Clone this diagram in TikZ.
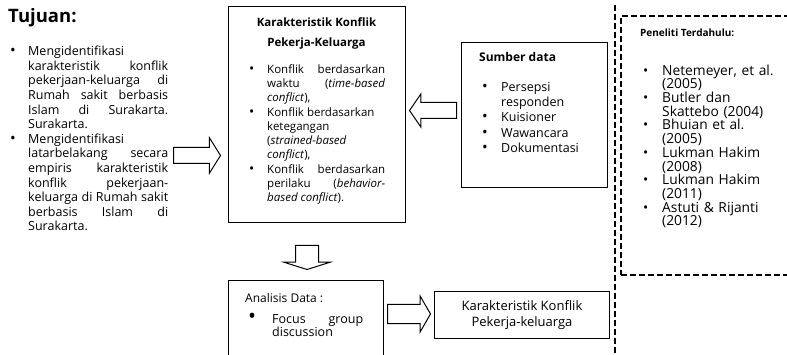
\documentclass[tikz,border=0pt]{standalone}
\usepackage{fontspec}
\setmainfont{Open Sans}
\usepackage{enumitem}
\usetikzlibrary{shapes.arrows}

\hyphenpenalty=10000
\exhyphenpenalty=10000
\tolerance=10000
\hbadness=10000

\setlist[itemize]{nosep,label=\scalebox{1.2}{\textbullet},align=left,labelindent=0pt,labelwidth=6pt,labelsep=*,leftmargin=18pt}

\tikzset{
  box/.style={draw, line width=1pt, inner sep=0pt, anchor=north west},
  dashbox/.style={draw, line width=2pt, dash pattern=on 6pt off 3pt},
  txt/.style={inner sep=0pt, anchor=north west, align=justify},
  title/.style={inner sep=0pt, anchor=base west, font=\bfseries\fontsize{#1}{#1}\selectfont},
  blockarrow/.style n args={4}{draw, line width=1pt, single arrow, minimum width=0pt,
    inner xsep=0pt, inner ysep=#1/2, single arrow head extend=#2,
    minimum height=#3, single arrow tip angle=#4, anchor=tail},
}

\begin{document}
\begin{tikzpicture}[x=1pt,y=1pt]
\useasboundingbox (0,0) rectangle (787,-355);

% Tujuan
\node[title=18.5] (tujuan) at (8,-23) {Tujuan:};
\node[txt, text width=158, font=\fontsize{12.5}{14.6}\selectfont] (tujuanlist) at (10,-41) {%
\begin{itemize}
\item Mengidentifikasi\newline karakteristik konflik\linebreak pekerjaan-keluarga di\linebreak
Rumah sakit berbasis\linebreak Islam di Surakarta.\linebreak Surakarta.
\item Mengidentifikasi\newline latarbelakang secara\linebreak empiris karakteristik\linebreak
konflik pekerjaan-\linebreak keluarga di Rumah sakit\linebreak berbasis Islam di\linebreak Surakarta.
\end{itemize}};

% Karakteristik
\node[box, minimum width=177, minimum height=216] (karakter) at (228,-6) {};
\node[inner sep=0pt, anchor=north, align=center, font=\bfseries\fontsize{11.5}{20}\selectfont] (karaktertitle) at (316.5,-18) {Karakteristik Konflik\\Pekerja-Keluarga};
\node[txt, text width=136, font=\fontsize{11.5}{14.3}\selectfont] (karakterlist) at (249,-58.7) {%
\begin{itemize}
\item Konflik berdasarkan\linebreak waktu (\textit{time-based}\linebreak \textit{conflict}),
\item Konflik berdasarkan\newline ketegangan\newline (\textit{strained-based}\newline \textit{conflict}),
\item Konflik berdasarkan\linebreak perilaku (\textit{behavior-}\linebreak \textit{based conflict}).
\end{itemize}};

% Sumber data
\node[box, minimum width=146, minimum height=145] (sumber) at (461,-42) {};
\node[title=12] (sumbertitle) at (479,-62) {Sumber data};
\node[txt, align=left, text width=110, font=\fontsize{12.5}{15.3}\selectfont] (sumberlist) at (482,-75.7) {%
\begin{itemize}[leftmargin=19pt]
\item Persepsi\newline responden
\item Kuisioner
\item Wawancara
\item Dokumentasi
\end{itemize}};

% Peneliti terdahulu
\draw[dashbox] (615,-5) -- (615,-360);
\node[box, dashbox, minimum width=180, minimum height=259] (peneliti) at (620,-15) {};
\node[title=10] (penelitititle) at (640,-37) {Peneliti Terdahulu:};
\node[txt, align=left, text width=140, font=\fontsize{13.8}{13.7}\selectfont] (penelitilist) at (643,-61.3) {%
\begin{itemize}[leftmargin=19pt, label=\textbullet]
\item Netemeyer, et al.\newline (2005)
\item Butler dan\newline Skattebo (2004)
\item Bhuian et al.\newline (2005)
\item Lukman Hakim\newline (2008)
\item Lukman Hakim\newline (2011)
\item Astuti \& Rijanti\newline (2012)
\end{itemize}};

% Analisis data
\node[box, minimum width=155, minimum height=80] (analisis) at (228,-280) {};
\node[inner sep=0pt, anchor=base west, font=\fontsize{12}{14}\selectfont] (analisistitle) at (245,-302) {Analisis Data :};
\node[txt, text width=115, font=\fontsize{12.5}{13.5}\selectfont] (analisislist) at (248,-309.5) {%
\begin{itemize}[leftmargin=24pt, label=\scalebox{1.7}{\textbullet}]
\item Focus group\linebreak discussion
\end{itemize}};

% Hasil
\node[box, minimum width=175, minimum height=47, align=center, font=\fontsize{13}{16.5}\selectfont] (hasil) at (434,-291) {Karakteristik Konflik\\Pekerja-keluarga};

% panah
\node[blockarrow={15}{10}{47}{116}] (panahtujuan) at (173,-155.5) {};
\node[blockarrow={15}{8.5}{47}{111}, shape border rotate=180] (panahsumber) at (457,-110.5) {};
\node[blockarrow={0}{11.5}{24}{145}, shape border rotate=270, inner xsep=11] (panahbawah) at (307,-245) {};
\node[blockarrow={18}{8.5}{43}{120}] (panahhasil) at (387,-314) {};
\end{tikzpicture}
\end{document}
